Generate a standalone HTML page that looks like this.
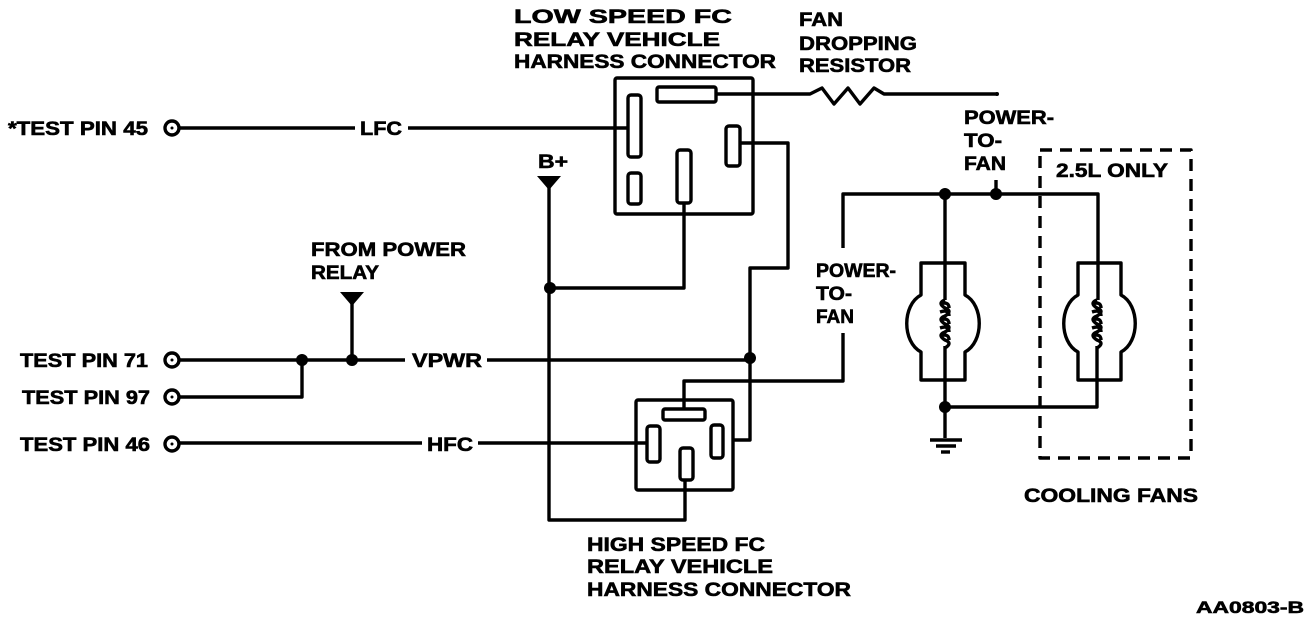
<!DOCTYPE html>
<html><head><meta charset="utf-8"><style>
html,body{margin:0;padding:0;background:#fff;}
svg{display:block;}
text{font-family:"Liberation Sans",Arial,sans-serif;font-weight:bold;font-size:19px;fill:#000;stroke:#000;stroke-width:0.6;}
</style></head><body>
<svg width="1312" height="622" viewBox="0 0 1312 622" xmlns="http://www.w3.org/2000/svg">
<g fill="none" stroke="#000" stroke-width="3.4" stroke-linejoin="round">
<rect x="615" y="78" width="138" height="136" rx="2"/>
<rect x="657" y="87" width="59" height="15" rx="2"/>
<rect x="628" y="95" width="13" height="62" rx="3"/>
<rect x="726" y="126" width="14" height="40" rx="3"/>
<rect x="677" y="150" width="14" height="53" rx="3"/>
<rect x="628" y="173" width="13" height="31" rx="3"/>
<polyline points="716,94 810,94 822,88 834,104 848,88 860,104 874,88 884,94 997,94"/>
<line x1="178" y1="128" x2="355" y2="128"/>
<line x1="408" y1="128" x2="628" y2="128"/>
<polyline points="740,143 788,143 788,268 750,268 750,440 733,440"/>
<polyline points="684,203 684,288 550,288"/>
<polyline points="549,180 549,520 685,520 685,480"/>
<line x1="178" y1="360" x2="405" y2="360"/>
<line x1="487" y1="360" x2="750" y2="360"/>
<polyline points="178,397 302,397 302,360"/>
<line x1="352" y1="300" x2="352" y2="360"/>
<line x1="178" y1="443" x2="422" y2="443"/>
<line x1="478" y1="443" x2="647" y2="443"/>
<rect x="636" y="400" width="97" height="90" rx="2"/>
<rect x="663" y="409" width="42" height="11" rx="2"/>
<rect x="647" y="426" width="13" height="36" rx="3"/>
<rect x="711" y="425" width="12" height="33" rx="3"/>
<rect x="680" y="448" width="13" height="32" rx="3"/>
<polyline points="684,409 684,381 843,381 843,333"/>
<polyline points="843,248 843,194 1098,194 1098,263"/>
<line x1="996" y1="180" x2="996" y2="194"/>
<line x1="945" y1="194" x2="945" y2="300"/>
<path d="M921,263 H965 V295 C984,305 984,342 965,352 V380 H921 V352 C902,342 902,305 921,295 Z"/>
<path d="M945,300 q-8,3 0,8 q8,3 0,8 q-8,3 0,8 q8,3 0,8 q-8,3 0,8 q8,3 0,8 M945,346 V380"/>
<path d="M940,304 q9,-3 9,4 M940,312 q9,-3 9,4 M940,320 q9,-3 9,4 M940,328 q9,-3 9,4 M940,336 q9,-3 9,4"/>
<line x1="1098" y1="263" x2="1098" y2="300"/>
<path d="M1078,263 H1121 V295 C1140,305 1140,342 1121,352 V380 H1078 V352 C1059,342 1059,305 1078,295 Z"/>
<path d="M1097,300 q-8,3 0,8 q8,3 0,8 q-8,3 0,8 q8,3 0,8 q-8,3 0,8 q8,3 0,8 M1097,346 V380"/>
<path d="M1092,304 q9,-3 9,4 M1092,312 q9,-3 9,4 M1092,320 q9,-3 9,4 M1092,328 q9,-3 9,4 M1092,336 q9,-3 9,4"/>
<polyline points="945,380 945,438"/>
<polyline points="945,407 1097,407 1097,380"/>
<line x1="930" y1="440" x2="962" y2="440"/>
<line x1="936" y1="446" x2="956" y2="446"/>
<line x1="941" y1="452" x2="950" y2="452"/>
<rect x="1040" y="150" width="151" height="308" stroke-dasharray="12,8"/>
<circle cx="172" cy="128" r="7"/>
<circle cx="172" cy="360" r="7"/>
<circle cx="172" cy="397" r="7"/>
<circle cx="172" cy="444" r="7"/>
</g>
<g fill="#000">
<circle cx="172" cy="128" r="1.5"/><circle cx="172" cy="360" r="1.5"/><circle cx="172" cy="397" r="1.5"/><circle cx="172" cy="444" r="1.5"/>
<circle cx="302" cy="360" r="6"/><circle cx="352" cy="360" r="6"/><circle cx="750" cy="358" r="6"/>
<circle cx="550" cy="288" r="6"/><circle cx="945" cy="194" r="6"/><circle cx="996" cy="194" r="6"/><circle cx="945" cy="407" r="6"/>
<circle cx="997" cy="94" r="2"/>
<polygon points="340,292 364,292 352,306"/>
<polygon points="537,176 561,176 549,190"/>
</g>
<text x="514" y="23" textLength="218" lengthAdjust="spacingAndGlyphs">LOW SPEED FC</text>
<text x="514" y="46" textLength="206" lengthAdjust="spacingAndGlyphs">RELAY VEHICLE</text>
<text x="514" y="68" textLength="262" lengthAdjust="spacingAndGlyphs">HARNESS CONNECTOR</text>
<text x="799" y="26" textLength="44" lengthAdjust="spacingAndGlyphs">FAN</text>
<text x="799" y="50" textLength="118" lengthAdjust="spacingAndGlyphs">DROPPING</text>
<text x="799" y="72" textLength="112" lengthAdjust="spacingAndGlyphs">RESISTOR</text>
<text x="964" y="124" textLength="90" lengthAdjust="spacingAndGlyphs">POWER-</text>
<text x="964" y="147" textLength="38" lengthAdjust="spacingAndGlyphs">TO-</text>
<text x="964" y="170" textLength="42" lengthAdjust="spacingAndGlyphs">FAN</text>
<text x="1056" y="177" textLength="112" lengthAdjust="spacingAndGlyphs">2.5L ONLY</text>
<text x="816" y="277" textLength="80" lengthAdjust="spacingAndGlyphs">POWER-</text>
<text x="816" y="300" textLength="36" lengthAdjust="spacingAndGlyphs">TO-</text>
<text x="816" y="323" textLength="38" lengthAdjust="spacingAndGlyphs">FAN</text>
<text x="538" y="168" textLength="30" lengthAdjust="spacingAndGlyphs">B+</text>
<text x="8" y="135" textLength="140" lengthAdjust="spacingAndGlyphs">*TEST PIN 45</text>
<text x="360" y="135" textLength="42" lengthAdjust="spacingAndGlyphs">LFC</text>
<text x="311" y="256" textLength="155" lengthAdjust="spacingAndGlyphs">FROM POWER</text>
<text x="311" y="279" textLength="68" lengthAdjust="spacingAndGlyphs">RELAY</text>
<text x="20" y="367" textLength="128" lengthAdjust="spacingAndGlyphs">TEST PIN 71</text>
<text x="22" y="404" textLength="128" lengthAdjust="spacingAndGlyphs">TEST PIN 97</text>
<text x="20" y="451" textLength="130" lengthAdjust="spacingAndGlyphs">TEST PIN 46</text>
<text x="412" y="367" textLength="70" lengthAdjust="spacingAndGlyphs">VPWR</text>
<text x="427" y="451" textLength="46" lengthAdjust="spacingAndGlyphs">HFC</text>
<text x="587" y="551" textLength="178" lengthAdjust="spacingAndGlyphs">HIGH SPEED FC</text>
<text x="587" y="573" textLength="186" lengthAdjust="spacingAndGlyphs">RELAY VEHICLE</text>
<text x="587" y="596" textLength="264" lengthAdjust="spacingAndGlyphs">HARNESS CONNECTOR</text>
<text x="1024" y="502" textLength="174" lengthAdjust="spacingAndGlyphs">COOLING FANS</text>
<text x="1196" y="613" textLength="108" lengthAdjust="spacingAndGlyphs" style="font-size:17px">AA0803-B</text>
</svg>
</body></html>
